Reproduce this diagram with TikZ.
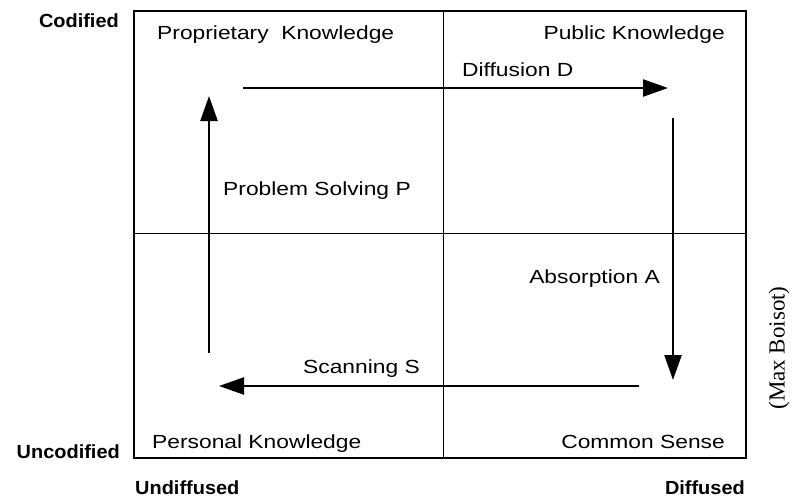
\documentclass[tikz,border=0pt]{standalone}
\usepackage{fontspec}
\setmainfont{Liberation Sans}
\newfontfamily\quadfont[FakeStretch=1.2]{Liberation Sans}
\newfontfamily\axisfont[FakeStretch=1.05]{Liberation Sans}
\newfontfamily\boisotfont{Liberation Serif}
\usetikzlibrary{arrows.meta}
\begin{document}
\begin{tikzpicture}[x=1pt,y=-1pt,
    quad/.style={font=\quadfont\fontsize{19}{22}\selectfont,inner sep=0pt},
    axis/.style={font=\axisfont\bfseries\fontsize{19}{22}\selectfont,inner sep=0pt},
    flow/.style={draw,line width=2.4pt,-{Triangle[length=25pt,width=17pt]}}]
        \useasboundingbox (0,0) rectangle (798,498);
        \node[draw,line width=1.2pt,minimum width=612pt,minimum height=447pt,inner sep=0pt] (box) at (440,234.5){};
        \coordinate (mtop) at (443,11);
        \coordinate (mbot) at (443,458);
        \coordinate (mleft) at (134,233);
        \coordinate (mright) at (746,233);
        \path [draw,line width=0.9pt] (mtop) to (mbot);
        \path [draw,line width=0.9pt] (mleft) to (mright);

        \node[axis,anchor=base east] (cod) at (119,27){Codified};
        \node[axis,anchor=base east] (uncod) at (120,458){Uncodified};
        \node[axis,anchor=base west] (undif) at (135,494){Undiffused};
        \node[axis,anchor=base east] (dif) at (745,494){Diffused};
        \node[font=\boisotfont\fontsize{23}{26}\selectfont,rotate=90,inner sep=0pt] (boisot) at (779,348){(Max Boisot)};

        \node[quad,anchor=base west] (prop) at (157,39){Proprietary\ \ Knowledge};
        \node[quad,anchor=base east] (pub) at (725,39){Public Knowledge};
        \node[quad,anchor=base west] (pers) at (152,448){Personal Knowledge};
        \node[quad,anchor=base east] (comm) at (725,448){Common Sense};

        \coordinate (d1) at (243,88);
        \coordinate (d2) at (668,88);
        \coordinate (a1) at (673,118);
        \coordinate (a2) at (673,380);
        \coordinate (s1) at (639,386);
        \coordinate (s2) at (219,386);
        \coordinate (p1) at (209,353);
        \coordinate (p2) at (209,96);

        \path [flow] (d1) to (d2);
        \path [flow] (a1) to (a2);
        \path [flow] (s1) to (s2);
        \path [flow] (p1) to (p2);

        \node[quad,anchor=base west] (diff) at (462,76){Diffusion D};
        \node[quad,anchor=base east] (abs) at (660,283){Absorption A};
        \node[quad,anchor=base east] (scan) at (420,373){Scanning S};
        \node[quad,anchor=base west] (prob) at (223,195){Problem Solving P};
    \end{tikzpicture}
\end{document}
